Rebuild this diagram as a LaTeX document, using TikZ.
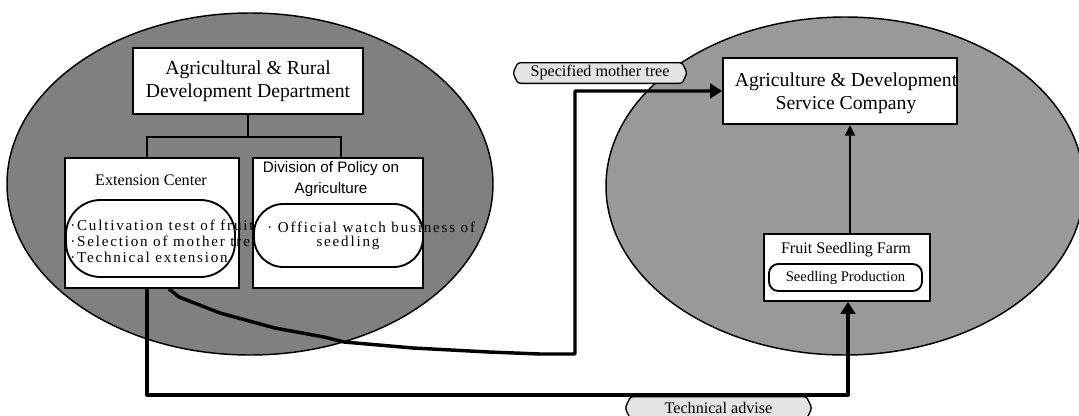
\documentclass[tikz,border=0pt]{standalone}
\usepackage{fontspec}
\setmainfont{Liberation Serif}
\newfontfamily\arialf{Liberation Sans}
\newfontfamily\spacedf[LetterSpace=12]{Liberation Serif}
\usetikzlibrary{arrows.meta,shapes.symbols}
\newcommand\myBig{\fontsize{14.8pt}{17.25pt}\selectfont}
\newcommand\myMid{\fontsize{12.1pt}{14pt}\selectfont}
\newcommand\mySpaced{\spacedf\fontsize{11.3pt}{12pt}\selectfont}
\definecolor{leftgray}{HTML}{808080}
\definecolor{rightgray}{HTML}{999999}
\definecolor{labelgray}{HTML}{E4E4E4}
\begin{document}
\begin{tikzpicture}[x=0.75pt,y=-0.75pt,
  box/.style={draw,line width=1.4pt,fill=white,inner sep=0pt},
  pill/.style={draw,line width=1.4pt,fill=white,inner sep=0pt,rounded corners=#1},
  txt/.style={inner sep=0pt},
  conn/.style={line width=1.5pt},
  thickconn/.style={line width=2.6pt,line join=round,-{Triangle[length=9pt,width=11pt]}},
  thinarrow/.style={line width=1.3pt,-{Triangle[length=8pt,width=7.5pt]}},
  tag/.style={draw,line width=1pt,fill=labelgray,signal,signal to=west and east,
    signal pointer angle=130,rounded corners=2pt,inner sep=0pt,font=\myMid}]
\useasboundingbox (0,0) rectangle (1079,415);
% background ellipses
\draw[line width=1.1pt,fill=leftgray] (250,184) ellipse [x radius=182.25pt, y radius=128.25pt];
\draw[line width=1.1pt,fill=rightgray] (845,186) ellipse [x radius=179.25pt, y radius=126.75pt];
% left organisation
\node[box,minimum width=172.5pt,minimum height=49.5pt,font=\myBig,align=center] (top) at (248,81)
  {Agricultural \& Rural\\Development Department};
\node[box,minimum width=130.5pt,minimum height=97.5pt] (ext) at (152,223) {};
\node[txt,font=\myMid] (extt) at (151,180) {Extension Center};
\node[pill=26pt,minimum width=126.75pt,minimum height=57.75pt] (exti) at (150.5,238.5) {};
\node[txt,anchor=west,align=left,font=\mySpaced] (extx) at (70,241)
  {·Cultivation test of fruit\\·Selection of mother tree\\·Technical extension};
\node[box,minimum width=127.5pt,minimum height=97.5pt] (div) at (338,223) {};
\node[txt,align=center,font={\arialf\fontsize{11.4pt}{15.75pt}\selectfont}] (divt) at (331,179.5)
  {Division of Policy on\\Agriculture};
\node[pill=22pt,minimum width=126.75pt,minimum height=47.25pt] (divi) at (338.5,235.5) {};
\node[txt,anchor=west,font=\mySpaced] (divx1) at (267,227)
  {· Official watch business of};
\node[txt,font=\mySpaced] (divx2) at (348,243) {seedling};
% org chart connectors
\draw[conn] (top.south) -- ++(0,22) coordinate (jn);
\draw[conn] ([xshift=-3.75pt]ext.north) |- (jn) -| ([xshift=2.25pt]div.north);
% right organisation
\node[box,minimum width=175.5pt,minimum height=49.5pt] (agri) at (840,91) {};
\node[txt,align=center,font=\myBig] (agrit) at (846,93.5) {Agriculture \& Development\\Service Company};
\node[box,minimum width=124.5pt,minimum height=50.25pt] (farm) at (847,267.5) {};
\node[txt,font=\myMid] (farmt) at (846,250) {Fruit Seedling Farm};
\node[pill=7pt,minimum width=114.75pt,minimum height=20.25pt,font=\fontsize{11pt}{13pt}\selectfont] (prod) at (845.5,277.5) {Seedling Production};
\draw[thinarrow] ([xshift=2.25pt]farm.north) -- ([xshift=2.25pt]farm.north |- agri.south);
% long connectors
\coordinate (sb) at (575,354);
\draw[thickconn] ([xshift=12.75pt]ext.south) -- (179,297) -- (220,313) -- (275,328) -- (324,337)
  -- (344,342) -- (413,348) -- (489,352) -- (540,354) -- (sb) -- (sb |- agri.west) -- (agri.west);
\draw[thickconn] ([xshift=-3.75pt]ext.south) -- ++(0,106) -| ([xshift=0.75pt]farm.south);
% labels
\node[tag,minimum width=130.5pt,minimum height=15.5pt] (spec) at (600,73) {Specified mother tree};
\node[tag,minimum width=140pt,minimum height=17pt] (tech) at (718.5,408) {Technical advise};
\end{tikzpicture}
\end{document}
